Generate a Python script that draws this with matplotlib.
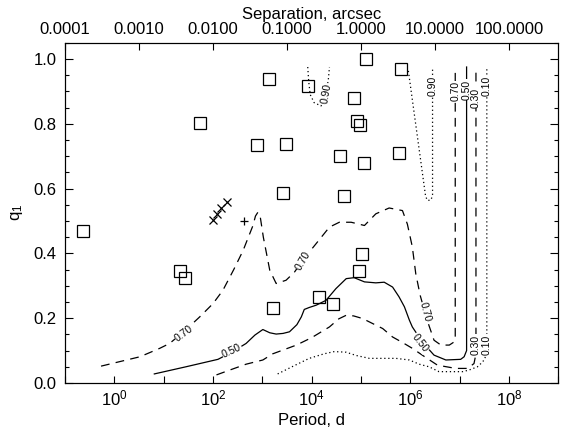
import numpy as np
import matplotlib
matplotlib.use("Agg")
import matplotlib.pyplot as plt
from matplotlib.ticker import FixedLocator, FuncFormatter, NullLocator

plt.rcParams['font.family'] = ['Liberation Sans', 'DejaVu Sans']
plt.rcParams['mathtext.fontset'] = 'custom'
plt.rcParams['mathtext.rm'] = 'Liberation Sans'
plt.rcParams['mathtext.it'] = 'Liberation Sans'

# ---- data: observed companions (log10 period in days, mass ratio q1) ----
sq_logp = [-0.63, 1.73, 3.13, 2.89, 3.47, 3.415, 5.10, 5.81, 3.92, 4.86, 4.92, 4.97,
           4.58, 5.07, 5.77, 4.65, 1.325, 1.43, 3.21, 5.03, 4.95, 4.14, 4.43]
sq_q = [0.469, 0.801, 0.939, 0.734, 0.736, 0.587, 0.999, 0.970, 0.915, 0.879, 0.807, 0.796,
        0.700, 0.679, 0.709, 0.578, 0.345, 0.324, 0.230, 0.399, 0.345, 0.264, 0.245]
x_logp = [1.99, 2.08, 2.17, 2.28]
x_q = [0.502, 0.520, 0.540, 0.560]
plus_logp = [2.63]
plus_q = [0.500]

# ---- detection-probability contours (log10 period, q1) ----
c70_logp = [-0.27, 0.11, 0.52, 0.92, 1.12, 1.42, 1.73, 2.00, 2.20, 2.42, 2.61, 2.81, 2.86,
            2.91, 2.96, 3.02, 3.15, 3.28, 3.48, 3.65, 3.85, 4.09, 4.36, 4.56, 4.80, 5.07,
            5.30, 5.57, 5.84, 5.94, 6.04, 6.11, 6.20, 6.34, 6.48, 6.62, 6.79, 6.89, 6.91, 6.91]
c70_q = [0.052, 0.066, 0.081, 0.107, 0.122, 0.160, 0.204, 0.245, 0.286, 0.350, 0.409, 0.486, 0.515,
         0.527, 0.510, 0.450, 0.348, 0.307, 0.317, 0.342, 0.385, 0.430, 0.481, 0.496, 0.496, 0.486,
         0.522, 0.540, 0.532, 0.490, 0.420, 0.337, 0.270, 0.194, 0.132, 0.117, 0.117, 0.127, 0.140, 0.975]

c50_logp = [0.81, 1.45, 2.10, 2.38, 2.67, 2.85, 3.01, 3.15, 3.28, 3.42, 3.55, 3.70, 3.79, 3.85,
            3.95, 4.09, 4.29, 4.49, 4.70, 4.86, 5.07, 5.30, 5.47, 5.64, 5.77, 5.88, 5.98, 6.04,
            6.25, 6.48, 6.72, 7.02, 7.09, 7.14, 7.14]
c50_q = [0.028, 0.050, 0.073, 0.095, 0.122, 0.148, 0.165, 0.155, 0.151, 0.153, 0.158, 0.180, 0.204, 0.227,
         0.233, 0.240, 0.255, 0.291, 0.322, 0.325, 0.312, 0.309, 0.311, 0.296, 0.266, 0.235, 0.194, 0.173,
         0.125, 0.086, 0.071, 0.073, 0.081, 0.100, 0.975]

c30_logp = [2.07, 2.34, 2.67, 3.01, 3.21, 3.69, 4.00, 4.36, 4.55, 4.70, 4.85, 5.03, 5.44, 5.64,
            5.84, 6.04, 6.30, 6.55, 6.92, 7.16, 7.29, 7.33, 7.33]
c30_q = [0.025, 0.040, 0.058, 0.071, 0.090, 0.117, 0.140, 0.173, 0.198, 0.209, 0.207, 0.199, 0.168, 0.142,
         0.125, 0.107, 0.080, 0.055, 0.045, 0.045, 0.060, 0.090, 0.975]

c10_logp = [3.31, 3.60, 3.95, 4.25, 4.46, 4.70, 4.90, 5.17, 5.37, 5.71, 5.98, 6.18, 6.38, 6.58,
            6.85, 7.06, 7.19, 7.36, 7.43, 7.49, 7.55, 7.55]
c10_q = [0.028, 0.050, 0.076, 0.090, 0.097, 0.095, 0.085, 0.076, 0.076, 0.076, 0.071, 0.058, 0.050, 0.035,
         0.035, 0.035, 0.040, 0.050, 0.060, 0.070, 0.090, 0.975]

c90a_logp = [5.96, 6.31, 6.35, 6.42, 6.45, 6.45]
c90a_q = [0.963, 0.575, 0.563, 0.565, 0.580, 0.975]
c90b_logp = [3.92, 3.94, 3.97, 4.05, 4.19, 4.30, 4.34, 4.36]
c90b_q = [0.975, 0.930, 0.890, 0.865, 0.855, 0.900, 0.940, 0.975]

# contour labels: text, log10 period, q, rotation
clabels = [("0.70", 1.41, 0.154, 37), ("0.50", 2.38, 0.100, 25), ("0.70", 3.83, 0.378, 60),
           ("0.70", 6.30, 0.218, -75), ("0.50", 6.20, 0.123, -52),
           ("0.30", 7.33, 0.117, 90), ("0.10", 7.55, 0.117, 90),
           ("0.90", 6.45, 0.917, 90), ("0.70", 6.91, 0.900, 90), ("0.50", 7.14, 0.905, 90),
           ("0.30", 7.33, 0.880, 90), ("0.10", 7.55, 0.917, 90), ("0.90", 4.30, 0.892, 80)]

sep_ticks = [0.0001, 0.001, 0.01, 0.1, 1.0, 10.0, 100.0]

P = lambda lp: 10.0 ** np.asarray(lp)

fig = plt.figure(figsize=(5.62, 4.30), dpi=100)
ax = fig.add_axes([0.1157, 0.1093, 0.8778, 0.7914])
ax.set_xscale('log')
ax.set_xlim(0.1, 1e9)
ax.set_ylim(0.0, 1.05)

dash = (0, (7, 5))
dot = (0, (1, 2.2))
lw = 0.9
ax.plot(P(c10_logp), c10_q, color='k', lw=lw, ls=dot)
ax.plot(P(c30_logp), c30_q, color='k', lw=lw, ls=dash)
ax.plot(P(c50_logp), c50_q, color='k', lw=lw, ls='-')
ax.plot(P(c70_logp), c70_q, color='k', lw=lw, ls=dash)
ax.plot(P(c90a_logp), c90a_q, color='k', lw=lw, ls=dot)
ax.plot(P(c90b_logp), c90b_q, color='k', lw=lw, ls=dot)

for txt, lp, qq, rot in clabels:
    ax.text(10 ** lp, qq, txt, rotation=rot, rotation_mode='anchor', ha='center', va='center',
            fontsize=7.5, zorder=4,
            bbox=dict(boxstyle='square,pad=0.05', fc='white', ec='none'))

ax.plot(P(sq_logp), sq_q, 's', mfc='none', mec='k', ms=8.6, mew=0.9, zorder=5)
ax.plot(P(x_logp), x_q, 'x', color='k', ms=6, mew=0.9, zorder=5)
ax.plot(P(plus_logp), plus_q, '+', color='k', ms=6, mew=0.9, zorder=5)

# bottom axis ticks
dec = [10.0 ** k for k in range(-1, 10)]
ax.xaxis.set_major_locator(FixedLocator(dec))
ax.xaxis.set_minor_locator(NullLocator())
def fmt_x(v, pos):
    e = int(round(np.log10(v)))
    if e % 2 == 0 and 0 <= e <= 8:
        return r'$10^{%d}$' % e
    return ''
ax.xaxis.set_major_formatter(FuncFormatter(fmt_x))
ax.set_yticks([0.0, 0.2, 0.4, 0.6, 0.8, 1.0])
ax.set_yticks(np.arange(0, 1.051, 0.05), minor=True)
ax.yaxis.set_major_formatter(FuncFormatter(lambda v, p: '%.1f' % v))
ax.tick_params(axis='x', which='major', direction='in', length=5, width=0.8, labelsize=12, pad=4, top=False)
ax.tick_params(axis='y', which='major', direction='in', length=6, width=0.8, labelsize=12, pad=6, right=True)
ax.tick_params(axis='y', which='minor', direction='in', length=3, width=0.8, right=True)
for s in ax.spines.values():
    s.set_linewidth(0.8)

ax.set_xlabel('Period, d', fontsize=12, labelpad=3)
ax.set_ylabel(r'q$_1$', fontsize=12, labelpad=6)

# top axis: angular separation (a ~ P^(2/3))
ax2 = ax.twiny()
ax2.set_xscale('log')
ax2.set_xlim(ax.get_xlim())
top_pos = [0.1 * (s / 1e-4) ** 1.5 for s in sep_ticks]
ax2.xaxis.set_major_locator(FixedLocator(top_pos))
ax2.xaxis.set_minor_locator(NullLocator())
ax2.set_xticklabels(['%.4f' % s for s in sep_ticks])
ax2.tick_params(axis='x', which='major', direction='in', length=5, width=0.8, labelsize=12, pad=4)
ax2.set_xlabel('Separation, arcsec', fontsize=12, labelpad=2)

fig.savefig('out.png', dpi=100)
